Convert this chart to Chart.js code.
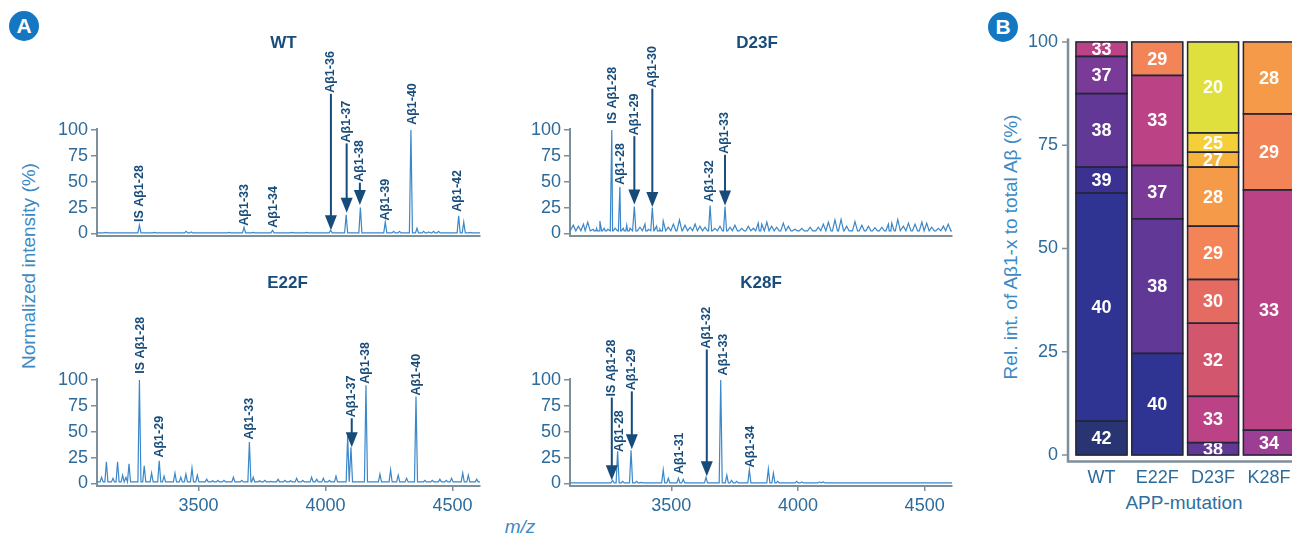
<!DOCTYPE html>
<html>
<head>
<meta charset="utf-8">
<script src="https://cdn.jsdelivr.net/npm/chart.js@4.4.1/dist/chart.umd.min.js"></script>
<style>
    body {
        margin: 0;
        width: 1292px;
        height: 535px;
        overflow: hidden;
        background: #ffffff;
        position: relative;
        font-family: "Liberation Sans", Arial, sans-serif;
    }
    canvas, .txt, .badge {
        position: absolute;
    }
    .txt {
        white-space: nowrap;
        line-height: 1;
        font-size: 19px;
        color: #3c89c3;
        transform: translate(-50%, -50%);
    }
    .rot {
        transform: translate(-50%, -50%) rotate(-90deg);
    }
    .badge {
        width: 30px;
        height: 30px;
        border-radius: 50%;
        background: #1477c1;
        color: #ffffff;
        font-weight: bold;
        font-size: 21px;
        line-height: 30px;
        text-align: center;
    }
</style>
</head>
<body>

<div class="badge" style="left:9px; top:11px;">A</div>
<div class="badge" style="left:988px; top:12px;">B</div>

<div class="txt rot" style="left:28px; top:266px;">Normalized intensity (%)</div>
<div class="txt" style="left:520px; top:526px; font-style:italic;">m/z</div>
<div class="txt rot" style="left:1010px; top:247px;">Rel. int. of Aβ1-x to total Aβ (%)</div>
<div class="txt" style="left:1184px; top:502px; color:#2f6f9f;">APP-mutation</div>

<canvas id="wtChart" width="445" height="262" style="left:40px; top:0px;"></canvas>
<canvas id="d23fChart" width="444" height="262" style="left:513px; top:0px;"></canvas>
<canvas id="e22fChart" width="445" height="285" style="left:40px; top:250px;"></canvas>
<canvas id="k28fChart" width="444" height="285" style="left:513px; top:250px;"></canvas>
<canvas id="barChart" width="300" height="535" style="left:1000px; top:0px;"></canvas>

<script>
// ===============================
// DATA : MASS SPECTRA (m/z, normalized intensity %)
// ===============================
const mzRange = [3100, 4608];
const mzTicks = [3500, 4000, 4500];
const intensityTicks = [0, 25, 50, 75, 100];

const wtPeaks = [
    [3135, 1], [3267, 8], [3326, 1], [3451, 2], [3471, 1.5], [3620, 1],
    [3679, 6], [3715, 1], [3791, 3], [3866, 1], [3925, 1], [4020, 3],
    [4081, 18], [4137, 25], [4235, 11], [4268, 2], [4291, 2], [4336, 100],
    [4360, 5], [4386, 2], [4406, 1.5], [4425, 2], [4445, 2], [4524, 17],
    [4544, 11], [4570, 1]
];

const d23fPeaks = [
    [3265, 100], [3297, 45], [3354, 26], [3425, 25], [3653, 27], [3712, 26]
];

const d23fNoise = [
    [3113, 8], [3133, 7], [3153, 9], [3170, 11], [3192, 4], [3205, 5],
    [3218, 12], [3235, 5], [3249, 4], [3278, 5], [3310, 5], [3324, 8],
    [3337, 5], [3376, 6], [3396, 9], [3409, 4], [3442, 7], [3455, 4],
    [3468, 12], [3488, 6], [3508, 9], [3532, 13], [3554, 8], [3574, 6],
    [3594, 9], [3613, 7], [3633, 6], [3672, 5], [3692, 7], [3732, 6],
    [3751, 8], [3778, 5], [3804, 7], [3824, 5], [3843, 10], [3857, 9],
    [3877, 11], [3896, 7], [3916, 6], [3942, 10], [3962, 7], [3988, 4],
    [4015, 5], [4048, 6], [4080, 6], [4100, 9], [4120, 11], [4146, 13],
    [4170, 13.5], [4192, 7], [4225, 11.5], [4252, 8], [4278, 7], [4304, 5.5],
    [4331, 6], [4357, 9], [4370, 10], [4394, 13.5], [4416, 7], [4436, 10],
    [4462, 9], [4489, 11], [4508, 10], [4528, 6], [4554, 5], [4574, 7],
    [4593, 9]
];

const e22fPeaks = [
    [3118, 6], [3137, 21], [3163, 5], [3181, 21], [3201, 8], [3214, 6],
    [3226, 19], [3267, 100], [3286, 17], [3315, 10], [3345, 22], [3364, 7],
    [3407, 10], [3430, 6], [3450, 9], [3474, 15], [3495, 8], [3532, 4],
    [3555, 2.5], [3576, 3], [3600, 3], [3637, 6], [3670, 3], [3700, 40],
    [3715, 6], [3740, 2.5], [3761, 3], [3785, 2], [3813, 4], [3840, 3],
    [3862, 2.5], [3886, 5], [3910, 3], [3945, 6], [3965, 4], [3991, 5],
    [4015, 3], [4041, 7], [4087, 46], [4100, 35], [4159, 95], [4214, 9],
    [4256, 13], [4286, 8], [4319, 5], [4356, 84], [4391, 3], [4420, 3],
    [4450, 4], [4475, 3], [4496, 5], [4540, 10], [4562, 8], [4595, 4]
];

const k28fPeaks = [
    [3268, 3], [3288, 31], [3308, 2], [3341, 32], [3363, 2], [3380, 1],
    [3468, 13], [3488, 5], [3528, 5], [3547, 4], [3637, 6], [3695, 100],
    [3719, 8], [3738, 3], [3758, 2], [3808, 13], [3883, 14], [3903, 10],
    [3920, 2], [3995, 2], [4015, 1.5], [4085, 1.5], [4100, 1.5]
];

// peak annotations: [text, m/z, label base (%), arrow tip (%) or none]
const wtNotes = [
    ["IS A\u03b21-28", 3269, 11], ["A\u03b21-33", 3680, 7.5], ["A\u03b21-34", 3797, 5.5],
    ["A\u03b21-36", 4021, 136, 3], ["A\u03b21-37", 4083, 88, 20], ["A\u03b21-38", 4135, 50, 27.5],
    ["A\u03b21-39", 4237, 12.5], ["A\u03b21-40", 4341, 105], ["A\u03b21-42", 4520, 21]
];
const d23fNotes = [
    ["IS A\u03b21-28", 3268, 106], ["A\u03b21-28", 3300, 47], ["A\u03b21-29", 3354, 95, 28],
    ["A\u03b21-30", 3425, 141, 25.5], ["A\u03b21-32", 3650, 30.5], ["A\u03b21-33", 3712, 77, 27]
];
const e22fNotes = [
    ["IS A\u03b21-28", 3270, 106], ["A\u03b21-29", 3345, 25], ["A\u03b21-33", 3702, 42.5],
    ["A\u03b21-37", 4103, 64, 35], ["A\u03b21-38", 4159, 96.5], ["A\u03b21-40", 4358, 85]
];
const k28fNotes = [
    ["IS A\u03b21-28", 3265, 84, 3], ["A\u03b21-28", 3297, 30.5], ["A\u03b21-29", 3344, 90, 33],
    ["A\u03b21-31", 3531, 9], ["A\u03b21-32", 3640, 130.5, 7], ["A\u03b21-33", 3705, 104.5],
    ["A\u03b21-34", 3813, 15.5]
];


// ===============================
// DATA : RELATIVE Aβ1-x SHARES (%)
// ===============================
const mutations = ["WT", "E22F", "D23F", "K28F"];
const fragments = ["42", "40", "39", "38", "37", "34", "33", "32", "30", "29", "28", "27", "25", "20"];
const share42 = [8.2, null, null, null];
const share40 = [55.2, 24.6, null, null];
const share39 = [6.3, null, null, null];
const share38 = [17.8, 32.6, 3.0, null];
const share37 = [9.0, 12.9, null, null];
const share34 = [null, null, null, 6.0];
const share33 = [3.5, 21.8, 11.2, 58.2];
const share32 = [null, null, 17.7, null];
const share30 = [null, null, 10.6, null];
const share29 = [null, 8.1, 12.9, 18.4];
const share28 = [null, null, 14.3, 17.4];
const share27 = [null, null, 3.6, null];
const share25 = [null, null, 4.7, null];
const share20 = [null, null, 22.0, null];
const shareTicks = [0, 25, 50, 75, 100];


// ===============================
// STYLE
// ===============================
const FONT = "'Liberation Sans', Arial, sans-serif";
const AXIS_GRAY = "#7e8f9c";
const TICK_BLUE = "#2c6b9b";
const NOTE_BLUE = "#174b7a";
const LINE_BLUE = "#3a87c9";
const SEGMENT_EDGE = "#26263a";

const fragmentColors = [
    "#283572", "#2f3391", "#3b3190", "#623896", "#7a3a97", "#9c3e94", "#bb4385",
    "#d3566f", "#e56b62", "#f28457", "#f59a49", "#f8b33f", "#f5cf3a", "#dfe03d"
];

Chart.defaults.font.family = FONT;


// ===============================
// SPECTRUM PANEL
// ===============================
function spectrumChart(canvasId, title, titleDx, titleY, peaks, noise, floor, notes, showMz) {

    const points = [];
    const addPeaks = (list, halfWidth) => {
        list.forEach(([mz, h]) => {
            points.push({ x: mz - halfWidth, y: floor }, { x: mz, y: h }, { x: mz + halfWidth, y: floor });
        });
    };
    addPeaks(peaks, 6);
    addPeaks(noise, 10);
    points.sort((a, b) => a.x - b.x);
    points.unshift({ x: mzRange[0], y: floor });
    points.push({ x: mzRange[1], y: floor });

    // title + peak labels + arrows
    const notesPlugin = {
        id: "notes_" + canvasId,
        afterDraw(chart) {
            const ctx = chart.ctx;
            const xs = chart.scales.x;
            const ys = chart.scales.y;
            const area = chart.chartArea;

            ctx.save();
            ctx.fillStyle = "#184c7a";
            ctx.font = "bold 17px " + FONT;
            ctx.textAlign = "center";
            ctx.textBaseline = "middle";
            ctx.fillText(title, (area.left + area.right) / 2 + titleDx, titleY);

            ctx.fillStyle = NOTE_BLUE;
            ctx.strokeStyle = NOTE_BLUE;
            ctx.lineWidth = 2;
            ctx.font = "bold 12.5px " + FONT;

            notes.forEach(([text, mz, base, tip]) => {
                const x = xs.getPixelForValue(mz);
                const yb = ys.getPixelForValue(base);

                ctx.save();
                ctx.translate(x, yb);
                ctx.rotate(-Math.PI / 2);
                ctx.textAlign = "left";
                ctx.textBaseline = "middle";
                ctx.fillText(text, 0, 0);
                ctx.restore();

                if (tip !== undefined) {
                    const yt = ys.getPixelForValue(tip);
                    const headH = 15;
                    const headW = 6;
                    ctx.beginPath();
                    ctx.moveTo(x, yb + 1);
                    ctx.lineTo(x, yt - headH + 1);
                    ctx.stroke();
                    ctx.beginPath();
                    ctx.moveTo(x - headW, yt - headH);
                    ctx.lineTo(x + headW, yt - headH);
                    ctx.lineTo(x, yt);
                    ctx.closePath();
                    ctx.fill();
                }
            });
            ctx.restore();
        }
    };

    return new Chart(document.getElementById(canvasId), {
        type: "line",
        data: {
            datasets: [{
                data: points,
                borderColor: LINE_BLUE,
                borderWidth: 1.2,
                pointRadius: 0,
                tension: 0,
                fill: false
            }]
        },
        options: {
            responsive: false,
            animation: false,
            layout: { padding: { top: 129, right: 5, bottom: 0, left: 0 } },
            plugins: {
                legend: { display: false },
                tooltip: { enabled: false }
            },
            scales: {
                x: {
                    type: "linear",
                    min: mzRange[0],
                    max: mzRange[1],
                    afterFit: s => { s.height = showMz ? 49 : 26; },
                    afterBuildTicks: s => { s.ticks = mzTicks.map(v => ({ value: v })); },
                    grid: {
                        display: showMz,
                        drawOnChartArea: false,
                        drawTicks: showMz,
                        tickLength: 5,
                        color: AXIS_GRAY,
                        lineWidth: 1.5
                    },
                    border: { display: true, color: AXIS_GRAY, width: 2 },
                    ticks: {
                        display: showMz,
                        padding: 4,
                        maxRotation: 0,
                        color: TICK_BLUE,
                        font: { size: 18 },
                        callback: v => String(v)
                    }
                },
                y: {
                    min: -2.5,
                    max: 101,
                    afterFit: s => { s.width = 57; },
                    afterBuildTicks: s => { s.ticks = intensityTicks.map(v => ({ value: v })); },
                    grid: {
                        drawOnChartArea: false,
                        drawTicks: true,
                        tickLength: 6,
                        color: AXIS_GRAY,
                        lineWidth: 1.5
                    },
                    border: { display: true, color: AXIS_GRAY, width: 2 },
                    ticks: {
                        padding: 3,
                        color: TICK_BLUE,
                        font: { size: 18 },
                        callback: v => String(v)
                    }
                }
            }
        },
        plugins: [notesPlugin]
    });
}

spectrumChart("wtChart", "WT", -5, 43, wtPeaks, [], 0.5, wtNotes, false);
spectrumChart("d23fChart", "D23F", -4, 43, d23fPeaks, d23fNoise, 2.5, d23fNotes, false);
spectrumChart("e22fChart", "E22F", -1, 33, e22fPeaks, [], 1.5, e22fNotes, true);
spectrumChart("k28fChart", "K28F", 0, 33, k28fPeaks, [], 0.5, k28fNotes, true);


// ===============================
// STACKED BAR CHART (B)
// ===============================
const shares = [
    share42, share40, share39, share38, share37, share34, share33,
    share32, share30, share29, share28, share27, share25, share20
];

// segment outlines + white numbers clipped to each segment
const segmentLabels = {
    id: "segmentLabels",
    afterDatasetsDraw(chart) {
        const ctx = chart.ctx;
        const segs = [];
        chart.data.datasets.forEach((ds, i) => {
            chart.getDatasetMeta(i).data.forEach((bar, j) => {
                if (ds.data[j] === null) return;
                const p = bar.getProps(["x", "y", "base", "width"], true);
                segs.push({
                    left: p.x - p.width / 2,
                    top: Math.min(p.y, p.base),
                    w: p.width,
                    h: Math.abs(p.base - p.y),
                    cx: p.x,
                    text: ds.label
                });
            });
        });

        ctx.save();
        ctx.strokeStyle = SEGMENT_EDGE;
        ctx.lineWidth = 1.5;
        segs.forEach(s => ctx.strokeRect(s.left, s.top, s.w, s.h));

        ctx.fillStyle = "#ffffff";
        ctx.font = "bold 18px " + FONT;
        ctx.textAlign = "center";
        ctx.textBaseline = "middle";
        segs.forEach(s => {
            ctx.save();
            ctx.beginPath();
            ctx.rect(s.left + 0.75, s.top + 0.75, s.w - 1.5, s.h - 1.5);
            ctx.clip();
            ctx.fillText(s.text, s.cx, s.top + s.h / 2 + 1);
            ctx.restore();
        });
        ctx.restore();
    }
};

// offset axis lines with tick marks
const offsetAxes = {
    id: "offsetAxes",
    afterDraw(chart) {
        const ctx = chart.ctx;
        const area = chart.chartArea;
        const ys = chart.scales.y;
        const x0 = area.left - 5.6;
        ctx.save();
        ctx.strokeStyle = AXIS_GRAY;
        ctx.lineWidth = 2.5;
        ctx.beginPath();
        ctx.moveTo(x0, area.top - 1.5);
        ctx.lineTo(x0, area.bottom);
        ctx.lineTo(chart.width, area.bottom);
        ctx.stroke();
        ctx.lineWidth = 1.5;
        shareTicks.forEach(v => {
            const y = ys.getPixelForValue(v);
            ctx.beginPath();
            ctx.moveTo(x0 - 6, y);
            ctx.lineTo(x0, y);
            ctx.stroke();
        });
        ctx.restore();
    }
};

new Chart(document.getElementById("barChart"), {
    type: "bar",
    data: {
        labels: mutations,
        datasets: fragments.map((f, i) => ({
            label: f,
            data: shares[i],
            backgroundColor: fragmentColors[i],
            borderWidth: 0,
            inflateAmount: 0.5,
            categoryPercentage: 1,
            barPercentage: 0.914
        }))
    },
    options: {
        responsive: false,
        animation: false,
        layout: { padding: { top: 39.9, right: 3.2, bottom: 0, left: 0 } },
        plugins: {
            legend: { display: false },
            tooltip: { enabled: false }
        },
        scales: {
            x: {
                stacked: true,
                afterFit: s => { s.height = 73.6; },
                grid: { display: false, drawTicks: false },
                border: { display: false },
                ticks: {
                    padding: 6,
                    color: TICK_BLUE,
                    font: { size: 18 }
                }
            },
            y: {
                stacked: true,
                min: -1.55,
                max: 100.5,
                afterFit: s => { s.width = 73.6; },
                afterBuildTicks: s => { s.ticks = shareTicks.map(v => ({ value: v })); },
                grid: { display: false, drawTicks: false },
                border: { display: false },
                ticks: {
                    padding: 15.6,
                    color: TICK_BLUE,
                    font: { size: 18 },
                    callback: v => String(v)
                }
            }
        }
    },
    plugins: [segmentLabels, offsetAxes]
});
</script>
</body>
</html>
